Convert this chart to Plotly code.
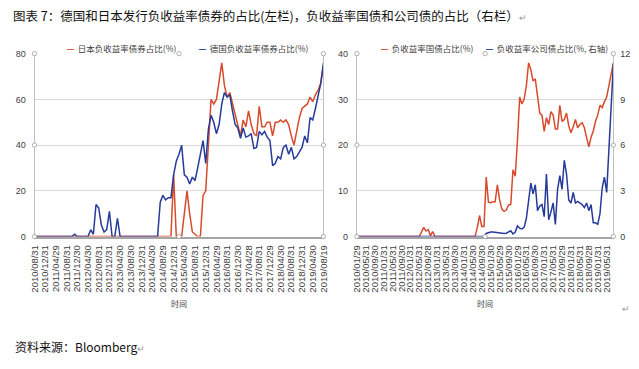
import pandas as pd
import plotly.graph_objects as go

W, H = 639, 369

def bme(start, n):
    try:
        d = pd.date_range(start, periods=n, freq="BME")
    except Exception:
        d = pd.date_range(start, periods=n, freq="BM")
    return [x.strftime("%Y/%m/%d") for x in d]

# ---------- left chart data (monthly, 2010/08 - 2019/08) ----------
left_dates = bme("2010-08-31", 108) + ["2019/08/19"]

japan_neg = [0] * 52 + [
    27, 0, 0, 0, 10, 20, 10, 2, 1, 0,            # 52-61
    0, 18, 20, 42, 60, 58, 60, 68, 76, 66,        # 62-71
    61, 63, 58, 53, 49, 44, 51, 48, 55, 49,       # 72-81
    45, 44, 57, 48, 48, 50, 50, 44, 50, 50,       # 82-91
    51, 50, 51, 49, 44, 40, 46, 52, 56, 57,       # 92-101
    58, 61, 59, 62, 64, 67, 75]                   # 102-108

germany_neg = [
    0, 0, 0, 0, 0, 0, 0, 0, 0, 0,                 # 0-9
    0, 0, 0, 0, 0, 1, 0, 0, 0, 0,                 # 10-19
    0, 3, 1, 14, 12.5, 5, 2, 3, 11, 0,            # 20-29
    0, 8, 0, 0, 0, 0, 0, 0, 0, 0,                 # 30-39
    0, 0, 0, 0, 0, 0, 0, 15, 18, 16,              # 40-49
    17, 17, 27, 33, 36, 40, 27, 26, 23, 26,       # 50-59
    24.5, 30, 36, 42, 32, 47, 53, 50, 45, 49,     # 60-69
    58, 63, 61, 62, 55, 49, 47.5, 43, 47.5, 43.5, # 70-79
    44, 45, 38.5, 39, 46, 44.5, 46, 43.5, 42, 31, # 80-89
    32, 35, 34, 39, 40, 36, 39, 34, 35, 37,       # 90-99
    39, 44, 41, 52, 51, 56, 62, 67, 76]           # 100-108

# ---------- right chart data (monthly, 2010/01 - 2019/08) ----------
right_dates = bme("2010-01-29", 116)

govt_neg = [0] * 29 + [
    1, 2, 1.2, 1.5, 0.2, 1.1, 0,                  # 29-35
    0, 0, 0, 0, 0, 0, 0, 0, 0, 0,                 # 36-45
    0, 0, 0, 0, 0, 0, 0, 0, 2, 4.6,               # 46-55
    2.2, 2.2, 13, 7.5, 7.4, 7.6, 7.6, 11.3, 8, 6, # 56-65
    5.5, 5.8, 6.9, 7, 14.6, 13.2, 21, 30.5, 29, 30,  # 66-75
    33, 38, 36.5, 34, 34.5, 31, 27, 26.5, 23, 26, # 76-85
    24.5, 27.3, 26.6, 23.5, 23.5, 28.7, 25.2, 25.6, 27, 24.2,  # 86-95
    22.7, 24, 25.6, 23.8, 24.5, 24.9, 23.8, 21.7, 19.6, 21.7,  # 96-105
    23.1, 25.2, 26.6, 28.7, 28.2, 29.5, 30.5, 33, 35.5, 38]    # 106-115

corp_neg = [0] * 58 + [
    0.2, 0.27, 0.3, 0.3, 0.28, 0.27, 0.25, 0.2, 0.2, 0.22,     # 58-67
    0.3, 0.38, 0.17, 0.3, 0.7, 0.55, 0.5, 0.6, 1.2, 2.4,       # 68-77
    3.5, 2.8, 3.4, 1.7, 2.0, 2.1, 1.3, 4.1, 1.1, 1.6,          # 78-87
    2.2, 0.8, 3.1, 4.0, 3.1, 5.0, 4.1, 2.4, 2.2, 2.9,          # 88-97
    2.2, 2.3, 2.2, 2.1, 1.9, 2.2, 1.7, 2.1, 0.9, 0.9,          # 98-107
    0.8, 1.5, 3.2, 3.9, 2.9, 5.6, 8.9, 11.3]                   # 108-115

left_ticks = [0, 20, 40, 60, 80]
right_ticks_l = [0, 10, 20, 30, 40]
right_ticks_r = [0, 3, 6, 9, 12]

RED = "#d84a2c"
BLUE = "#263a9a"
GRID = "#d9d9d9"
AX = "#a6a6a6"
TXT = "#404040"
FONT = "Noto Sans CJK SC, Liberation Sans, sans-serif"
NUMF = dict(size=9, color=TXT, family="Liberation Sans")
XF = dict(size=9.5, color=TXT, family="Liberation Sans")

fig = go.Figure()
fig.add_trace(go.Scatter(x=left_dates, y=japan_neg, mode="lines", line=dict(color=RED, width=1.5),
                         name="日本负收益率债券占比(%)", xaxis="x", yaxis="y"))
fig.add_trace(go.Scatter(x=left_dates, y=germany_neg, mode="lines", line=dict(color=BLUE, width=1.5),
                         name="德国负收益率债券占比(%)", xaxis="x", yaxis="y"))
fig.add_trace(go.Scatter(x=right_dates, y=govt_neg, mode="lines", line=dict(color=RED, width=1.5),
                         name="负收益率国债占比(%)", xaxis="x2", yaxis="y2"))
fig.add_trace(go.Scatter(x=right_dates, y=corp_neg, mode="lines", line=dict(color=BLUE, width=1.5),
                         name="负收益率公司债占比(%, 右轴)", xaxis="x2", yaxis="y3"))

def px(x):
    return x / W

def py(y):
    return 1 - y / H

top, bot = 50, 238
L0, L1 = 29, 323
R0, R1 = 357, 618

xcommon = dict(type="category", tickangle=-90, tickfont=XF,
               showgrid=False, showline=True, linecolor=AX, linewidth=1.5, mirror=False,
               ticks="", ticklen=0, ticklabelstandoff=3,
               title=dict(text="时间", font=dict(size=8, color=TXT, family=FONT), standoff=10))

ycommon = dict(tickfont=NUMF, showgrid=True, gridcolor=GRID, gridwidth=1, zeroline=False,
               showline=True, linecolor="#bfbfbf", mirror=True, ticks="", ticklabelstandoff=6)

fig.update_layout(
    width=W, height=H, margin=dict(l=0, r=0, t=0, b=0),
    paper_bgcolor="white", plot_bgcolor="white", showlegend=False,
    font=dict(family=FONT, color=TXT),
    xaxis=dict(xcommon, domain=[px(L0), px(L1)], anchor="y",
               tickvals=left_dates[::4], range=[0, len(left_dates) - 1]),
    yaxis=dict(ycommon, domain=[py(bot), py(top)], range=[0, 80], tickvals=left_ticks, anchor="x"),
    xaxis2=dict(xcommon, domain=[px(R0), px(R1)], anchor="y2",
                tickvals=right_dates[::4], range=[0, len(right_dates) - 1]),
    yaxis2=dict(ycommon, domain=[py(bot), py(top)], range=[0, 40], tickvals=right_ticks_l, anchor="x2"),
    yaxis3=dict(domain=[py(bot), py(top)], range=[0, 12], tickvals=right_ticks_r, tickfont=NUMF,
                overlaying="y2", side="right", anchor="x2", showgrid=False, zeroline=False,
                showline=False, ticks="", ticklabelstandoff=6),
)

P = dict(xref="paper", yref="paper", showarrow=False)
ann = []
ann.append(dict(P, text="图表 7：德国和日本发行负收益率债券的占比(左栏)，负收益率国债和公司债的占比（右栏）"
                        "<span style='color:#999999;font-size:9px'>↵</span>",
                x=px(5), y=py(11), xanchor="left", yanchor="middle",
                font=dict(size=12.5, color="#111111", family=FONT)))
ann.append(dict(P, text="资料来源：Bloomberg<span style='color:#999999;font-size:9px'>↵</span>",
                x=px(7), y=py(351), xanchor="left", yanchor="middle",
                font=dict(size=12, color="#111111", family=FONT)))
ann.append(dict(P, text="↵", x=px(637), y=py(312), xanchor="right", yanchor="middle",
                font=dict(size=9, color="#999999")))

legends = [
    ("日本负收益率债券占比(%)", RED, 60),
    ("德国负收益率债券占比(%)", BLUE, 194),
    ("负收益率国债占比(%)", RED, 380),
    ("负收益率公司债占比(%, 右轴)", BLUE, 486),
]
for label, col, x0 in legends:
    ann.append(dict(P, text=f"<span style='color:{col};font-size:7px'><b>━</b></span>  {label}",
                    x=px(x0), y=py(44), xanchor="left", yanchor="middle",
                    font=dict(size=8.5, color=TXT, family=FONT)))
fig.update_layout(annotations=ann)

# selection handles of the chart areas (small circles)
shapes = []
r = 2.2
for (a, b) in [(L0, L1), (R0, R1)]:
    m = (a + b) / 2
    for (cx, cy) in [(a, top), (m, top), (b, top), (a, (top + bot) / 2), (b, (top + bot) / 2),
                     (a, bot), (m, bot), (b, bot)]:
        shapes.append(dict(type="circle", xref="paper", yref="paper",
                           x0=px(cx - r), x1=px(cx + r), y0=py(cy + r), y1=py(cy - r),
                           line=dict(color="#9a9a9a", width=0.8), fillcolor="white"))
fig.update_layout(shapes=shapes)

fig.write_html("out.html", config={"displayModeBar": False},
               post_script="document.body.style.margin='0';")
